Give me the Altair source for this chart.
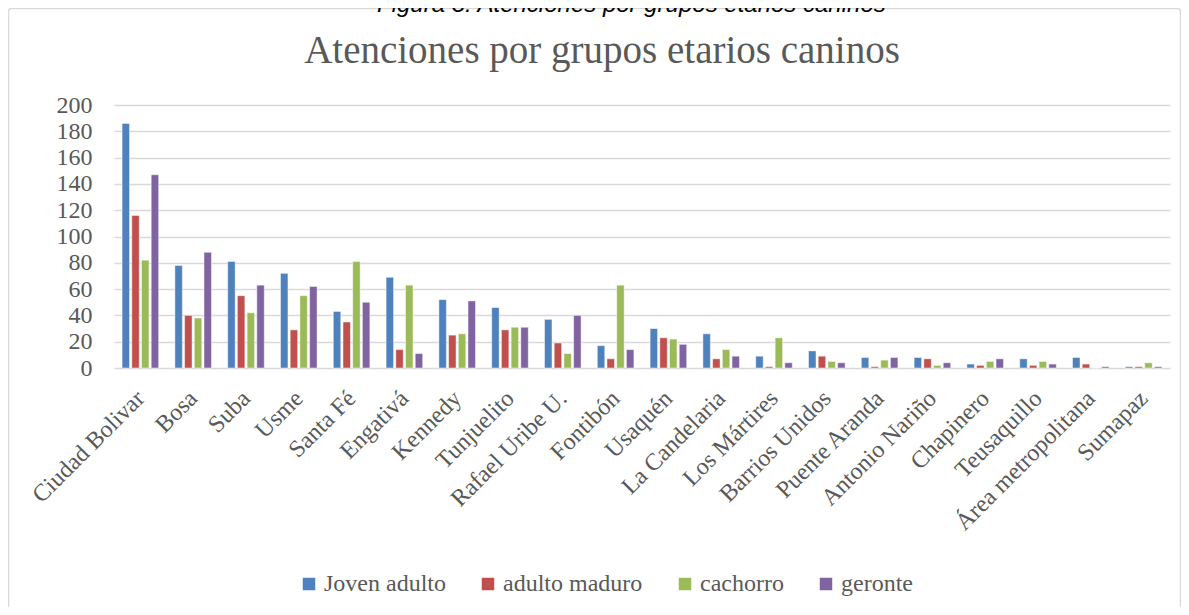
import altair as alt
import pandas as pd

categories = ["Ciudad Bolivar", "Bosa", "Suba", "Usme", "Santa Fé", "Engativá",
              "Kennedy", "Tunjuelito", "Rafael Uribe U.", "Fontibón", "Usaquén",
              "La Candelaria", "Los Mártires", "Barrios Unidos", "Puente Aranda",
              "Antonio Nariño", "Chapinero", "Teusaquillo", "Área metropolitana", "Sumapaz"]
series = ["Joven adulto", "adulto maduro", "cachorro", "geronte"]
joven_adulto = [186, 78, 81, 72, 43, 69, 52, 46, 37, 17, 30, 26, 9, 13, 8, 8, 3, 7, 8, 1]
adulto_maduro = [116, 40, 55, 29, 35, 14, 25, 29, 19, 7, 23, 7, 1, 9, 1, 7, 2, 2, 3, 1]
cachorro = [82, 38, 42, 55, 81, 63, 26, 31, 11, 63, 22, 14, 23, 5, 6, 2, 5, 5, 0, 4]
geronte = [147, 88, 63, 62, 50, 11, 51, 31, 40, 14, 18, 9, 4, 4, 8, 4, 7, 3, 1, 1]
colors = ["#4F81BD", "#C0504D", "#9BBB59", "#8064A2"]
title_text = "Atenciones por grupos etarios caninos"
caption_text = "Figura 3: Atenciones por grupos etarios caninos"

rows = []
for s, vals in zip(series, [joven_adulto, adulto_maduro, cachorro, geronte]):
    for c, v in zip(categories, vals):
        rows.append({"grupo": c, "serie": s, "valor": v})
df = pd.DataFrame(rows)

W, H = 1056, 263
GREY = "#595959"
FONT = "Liberation Serif"

bars = alt.Chart(df).mark_bar(stroke="white", strokeWidth=0.8, strokeOpacity=0.6).encode(
    x=alt.X("grupo:N", sort=categories, title=None,
            scale=alt.Scale(paddingInner=0.307, paddingOuter=0.153),
            axis=alt.Axis(labelAngle=-45, labelFont=FONT, labelFontSize=24, labelColor=GREY,
                          ticks=False, domain=False, grid=False, labelPadding=18,
                          labelOffset=-8, labelLimit=400)),
    xOffset=alt.XOffset("serie:N", sort=series, scale=alt.Scale(paddingInner=0.23, paddingOuter=0)),
    y=alt.Y("valor:Q", title=None,
            scale=alt.Scale(domain=[0, 200], nice=False),
            axis=alt.Axis(values=list(range(0, 201, 20)), labelFont=FONT, labelFontSize=24,
                          labelColor=GREY, ticks=False, domain=False, labelPadding=22,
                          gridColor="#D9D9D9", gridWidth=1.5)),
    color=alt.Color("serie:N", sort=series, scale=alt.Scale(domain=series, range=colors),
                    legend=alt.Legend(title=None, orient="none", direction="horizontal",
                                      legendX=183, legendY=467, symbolType="square",
                                      symbolSize=156, symbolStrokeWidth=0, labelFont=FONT,
                                      labelFontSize=24, labelColor=GREY, labelOffset=3,
                                      columnPadding=30, padding=0, labelLimit=400)),
)

frame = alt.Chart(pd.DataFrame({"k": [0]})).mark_rect(
    fill=None, stroke="#D9D9D9", strokeWidth=1.5, cornerRadius=3
).encode(x=alt.value(-105.5), x2=alt.value(1066.5), y=alt.value(-96.5), y2=alt.value(520))

title = alt.Chart(pd.DataFrame({"t": [title_text]})).mark_text(
    font=FONT, fontSize=39, color=GREY, align="center", baseline="alphabetic"
).encode(text="t:N", x=alt.value(488), y=alt.value(-42))

caption = alt.Chart(pd.DataFrame({"t": [caption_text]})).mark_text(
    font="Liberation Sans", fontSize=24, fontStyle="italic", color="black", align="left",
    baseline="alphabetic"
).encode(text="t:N", x=alt.value(263), y=alt.value(-93))

chart = alt.layer(frame, bars, title, caption).properties(
    width=W, height=H,
    autosize=alt.AutoSizeParams(type="none"),
    padding={"left": 106, "top": 97, "right": 11, "bottom": 239},
).configure(
    background="white",
    view=alt.ViewConfig(stroke=None),
    legend=alt.LegendConfig(labelFont=FONT),
)

chart.save("out.html", embed_options={"renderer": "svg", "actions": False})
